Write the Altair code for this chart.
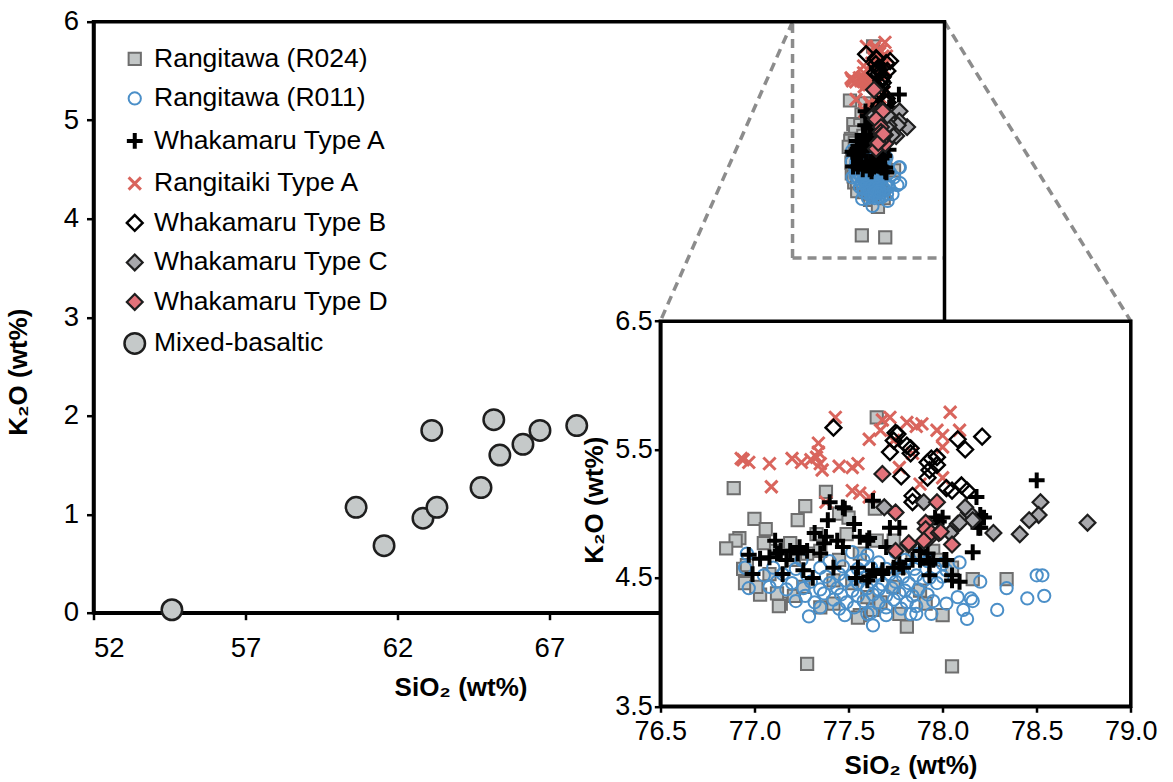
import altair as alt
import pandas as pd

# ---------------- data (SiO2 wt%, K2O wt%) ----------------
mixed_basaltic = [(54.58, 0.03), (60.64, 1.07), (61.56, 0.68), (62.84, 0.96), (63.30, 1.07),
                  (63.13, 1.85), (64.75, 1.27), (65.17, 1.96), (65.37, 1.60), (66.13, 1.71),
                  (66.69, 1.85), (67.90, 1.90)]

rangitawa_r024 = [(77.65, 5.75), (76.89, 5.20), (77.38, 5.17), (77.27, 5.06), (77.00, 4.96), (77.23, 4.95),
                  (77.06, 4.88), (76.92, 4.81), (76.90, 4.79), (76.85, 4.73), (77.64, 5.04), (77.45, 5.00),
                  (77.50, 4.97), (76.94, 4.57), (76.95, 4.46), (77.03, 4.37), (77.14, 4.30), (77.13, 4.28),
                  (77.21, 4.36), (77.35, 4.27), (77.42, 4.30), (77.56, 4.21), (77.55, 4.19), (77.77, 4.22),
                  (77.81, 4.12), (77.91, 4.30), (78.00, 4.21), (78.16, 4.49), (78.34, 4.49), (77.28, 3.83),
                  (78.05, 3.81), (77.63, 4.25), (77.67, 4.31), (77.95, 4.71), (77.97, 4.64), (77.65, 4.79),
                  (77.49, 4.84), (77.33, 4.84), (77.11, 4.71), (77.08, 4.53), (77.21, 4.64), (77.28, 4.69),
                  (77.74, 4.79), (77.84, 4.69), (78.05, 4.58), (77.42, 4.48), (77.52, 4.46), (77.74, 4.43),
                  (77.88, 4.40), (77.26, 4.43), (77.01, 4.43), (77.12, 4.38), (77.60, 4.35), (77.45, 4.64),
                  (77.56, 4.69), (77.35, 4.71), (77.19, 4.77), (77.05, 4.77), (77.77, 4.58), (76.96, 4.60)]

rangitawa_r011 = [(76.96, 4.69), (76.95, 4.58), (76.97, 4.42), (77.08, 4.43), (77.17, 4.41), (77.29, 4.20),
                  (77.27, 4.36), (77.37, 4.38), (77.49, 4.31), (77.62, 4.23), (77.63, 4.13), (77.70, 4.21),
                  (77.83, 4.22), (77.86, 4.22), (77.94, 4.22), (77.60, 4.22), (78.50, 4.52), (78.53, 4.52),
                  (78.45, 4.34), (78.54, 4.36), (78.29, 4.25), (78.34, 4.42), (78.20, 4.47), (78.09, 4.62),
                  (78.15, 4.34), (78.16, 4.32), (78.11, 4.25), (78.13, 4.18), (78.08, 4.35), (78.02, 4.30),
                  (77.52, 4.70), (77.60, 4.68), (77.75, 4.70), (77.88, 4.69), (77.25, 4.64), (77.40, 4.63),
                  (77.58, 4.64), (77.66, 4.62), (77.80, 4.64), (77.92, 4.63), (78.00, 4.61), (77.10, 4.58),
                  (77.22, 4.57), (77.35, 4.58), (77.47, 4.59), (77.55, 4.57), (77.62, 4.58), (77.70, 4.57),
                  (77.78, 4.59), (77.85, 4.57), (77.96, 4.58), (78.02, 4.56), (77.05, 4.52), (77.15, 4.53),
                  (77.28, 4.52), (77.38, 4.51), (77.45, 4.53), (77.52, 4.52), (77.58, 4.50), (77.65, 4.52),
                  (77.72, 4.53), (77.79, 4.51), (77.86, 4.52), (77.93, 4.50), (78.00, 4.51), (77.12, 4.47),
                  (77.20, 4.46), (77.30, 4.47), (77.40, 4.46), (77.48, 4.48), (77.55, 4.46), (77.62, 4.47),
                  (77.68, 4.45), (77.75, 4.47), (77.82, 4.46), (77.90, 4.48), (77.97, 4.46), (77.26, 4.42),
                  (77.35, 4.41), (77.44, 4.42), (77.52, 4.40), (77.60, 4.42), (77.66, 4.41), (77.73, 4.42),
                  (77.80, 4.40), (77.87, 4.41), (77.46, 4.37), (77.55, 4.36), (77.63, 4.37), (77.70, 4.36),
                  (77.77, 4.38), (77.84, 4.36), (77.92, 4.37), (77.22, 4.32), (77.32, 4.31), (77.42, 4.33),
                  (77.58, 4.32), (77.66, 4.31), (77.74, 4.33), (77.81, 4.31), (77.95, 4.32), (77.35, 4.27),
                  (77.45, 4.26), (77.53, 4.27), (77.70, 4.27), (77.78, 4.26), (77.86, 4.28), (77.48, 4.21)]

whakamaru_a = [(78.50, 5.26), (78.18, 5.13), (78.20, 4.99), (78.19, 4.89), (78.16, 4.70), (78.09, 4.47),
               (78.05, 4.52), (78.01, 4.64), (77.98, 4.94), (77.96, 4.97), (77.93, 4.61), (77.92, 4.69),
               (77.84, 4.64), (77.77, 4.61), (77.74, 4.58), (77.77, 4.89), (77.72, 4.89), (77.63, 5.10),
               (77.68, 4.53), (77.63, 4.56), (77.60, 4.48), (77.54, 4.50), (77.55, 4.58), (77.56, 4.82),
               (77.53, 4.92), (77.48, 5.04), (77.42, 4.58), (77.40, 5.09), (77.39, 4.95), (77.38, 4.82),
               (77.37, 4.77), (77.32, 4.85), (77.31, 4.50), (77.26, 4.56), (77.28, 4.71), (77.23, 4.69),
               (77.17, 4.64), (77.15, 4.53), (77.11, 4.79), (77.12, 4.69), (77.08, 4.66), (77.03, 4.65),
               (76.97, 4.68), (76.99, 4.53), (77.14, 4.71), (77.19, 4.71), (77.24, 4.74), (77.35, 4.69),
               (77.47, 4.74), (77.44, 4.79), (77.60, 4.79), (77.70, 4.74), (77.88, 4.71), (78.00, 4.97),
               (77.61, 4.81), (77.88, 4.64), (77.95, 4.64), (78.02, 4.64), (77.93, 4.52), (78.05, 4.48),
               (77.79, 4.58), (77.68, 4.56), (77.61, 4.51), (78.22, 4.97), (78.20, 4.89), (77.47, 5.05)]

rangitaiki_a = [(76.94, 5.42), (76.97, 5.40), (76.93, 5.43), (77.08, 5.39), (77.09, 5.21), (77.20, 5.43),
                (77.25, 5.40), (77.34, 5.55), (77.34, 5.48), (77.35, 5.39), (77.36, 5.34), (77.33, 5.44),
                (77.45, 5.37), (77.52, 5.36), (77.55, 5.39), (77.52, 5.18), (77.43, 5.75), (77.38, 5.09),
                (77.56, 5.16), (77.61, 5.13), (77.68, 5.73), (77.72, 5.75), (77.67, 5.65), (77.81, 5.71),
                (77.89, 5.70), (77.86, 5.68), (77.97, 5.65), (78.00, 5.61), (78.04, 5.79), (78.09, 5.65),
                (78.00, 5.52), (77.84, 5.47), (77.77, 5.36), (78.00, 5.28), (77.88, 5.23), (77.61, 5.58),
                (77.74, 5.57), (77.30, 5.42)]

whakamaru_b = [(77.42, 5.67), (77.76, 5.62), (77.81, 5.53), (77.72, 5.48), (77.74, 5.57), (77.83, 5.47),
               (77.78, 5.29), (77.92, 5.40), (77.94, 5.43), (77.97, 5.44), (78.08, 5.58), (78.12, 5.50),
               (78.21, 5.60), (77.92, 5.28), (77.84, 5.14), (77.84, 5.09), (78.02, 5.20), (78.05, 5.18),
               (78.10, 5.22), (78.13, 5.18), (77.75, 5.63), (77.83, 5.51), (77.93, 5.34), (77.97, 5.38)]

whakamaru_c = [(78.77, 4.93), (78.52, 5.09), (78.51, 4.99), (78.46, 4.95), (78.41, 4.84), (78.27, 4.85),
               (77.69, 5.05), (77.90, 5.09), (78.04, 4.85), (78.08, 4.92), (78.14, 5.01), (78.16, 4.95),
               (77.93, 4.81), (78.09, 4.93), (78.12, 5.05)]

whakamaru_d = [(77.68, 5.31), (77.97, 5.09), (77.75, 5.01), (77.82, 4.76), (77.75, 4.71), (77.91, 4.93),
               (77.91, 4.88), (77.94, 4.85), (77.98, 4.85), (78.05, 4.76), (77.90, 4.79), (77.82, 4.77),
               (77.99, 4.86)]

GROUPS = ["Rangitawa (R024)", "Rangitawa (R011)", "Whakamaru Type A", "Rangitaiki Type A",
          "Whakamaru Type B", "Whakamaru Type C", "Whakamaru Type D", "Mixed-basaltic"]
INSET_SERIES = [rangitawa_r024, rangitawa_r011, rangitaiki_a, whakamaru_a,
                whakamaru_b, whakamaru_c, whakamaru_d]
INSET_NAMES = ["Rangitawa (R024)", "Rangitawa (R011)", "Rangitaiki Type A", "Whakamaru Type A",
               "Whakamaru Type B", "Whakamaru Type C", "Whakamaru Type D"]

# ---------------- styles ----------------
PLUS = "M-1,0L1,0M0,-1L0,1"
XMARK = "M-1,-1L1,1M1,-1L-1,1"
SHAPES = ["square", "circle", PLUS, XMARK, "diamond", "diamond", "diamond", "circle"]
FILLS = ["#c3c7c7", "transparent", "transparent", "transparent", "transparent", "#a8a8ac", "#e2727a", "#c5c9c9"]
STROKES = ["#6e6e6e", "#4b8fc8", "#000000", "#d9655d", "#000000", "#1e1e1e", "#1e1e1e", "#1e1e1e"]
SIZES = [150, 150, 250, 150, 250, 250, 250, 420]
WIDTHS = [2, 2, 4, 3, 2.4, 2.2, 2.2, 2.5]

FONT = "Liberation Sans"
PLOT_W, PLOT_H = 851, 591
MAIN_X, MAIN_Y = [52, 80], [0, 6]
INSET_X, INSET_Y = [76.5, 79.0], [3.5, 6.5]
# where the inset sits, expressed in main-axis data units
INSET_AT_X, INSET_AT_Y = [70.65, 86.13], [-0.95, 2.96]
ZOOM_X, ZOOM_Y = [75, 80], [3.6, 6]


def px_x(v):
    return (v - MAIN_X[0]) / (MAIN_X[1] - MAIN_X[0]) * PLOT_W


def px_y(v):
    return (MAIN_Y[1] - v) / (MAIN_Y[1] - MAIN_Y[0]) * PLOT_H


inset_xrange = [px_x(INSET_AT_X[0]), px_x(INSET_AT_X[1])]
inset_yrange = [px_y(INSET_AT_Y[0]), px_y(INSET_AT_Y[1])]

rows = []
for name, ser in zip(INSET_NAMES, INSET_SERIES):
    for sx, ky in ser:
        rows.append({"x": sx, "y": ky, "group": name})
inset_df = pd.DataFrame(rows)
mixed_df = pd.DataFrame([{"x": a, "y": b, "group": "Mixed-basaltic"} for a, b in mixed_basaltic])
main_df = pd.concat([inset_df, mixed_df], ignore_index=True)

rules_df = pd.DataFrame([
    {"x": ZOOM_X[0], "x2": ZOOM_X[0], "y": ZOOM_Y[0], "y2": ZOOM_Y[1]},
    {"x": ZOOM_X[0], "x2": ZOOM_X[1], "y": ZOOM_Y[0], "y2": ZOOM_Y[0]},
    {"x": ZOOM_X[0], "x2": INSET_AT_X[0], "y": ZOOM_Y[1], "y2": INSET_AT_Y[1]},
    {"x": ZOOM_X[1], "x2": INSET_AT_X[1], "y": ZOOM_Y[1], "y2": INSET_AT_Y[1]},
])
main_frame_df = pd.DataFrame([{"x": MAIN_X[0], "x2": MAIN_X[1], "y": MAIN_Y[0], "y2": MAIN_Y[1]}])
frame_df = pd.DataFrame([{"x": INSET_X[0], "x2": INSET_X[1], "y": INSET_Y[0], "y2": INSET_Y[1]}])

legend = alt.Legend(title=None, orient="none", legendX=28, legendY=24, labelFont=FONT,
                    labelFontSize=26.5, labelColor="black", labelLimit=500, rowPadding=12.5,
                    labelOffset=6, padding=0)

style = dict(
    shape=alt.Shape("group:N", scale=alt.Scale(domain=GROUPS, range=SHAPES), legend=legend),
    fill=alt.Fill("group:N", scale=alt.Scale(domain=GROUPS, range=FILLS), legend=legend),
    stroke=alt.Stroke("group:N", scale=alt.Scale(domain=GROUPS, range=STROKES), legend=legend),
    size=alt.Size("group:N", scale=alt.Scale(type="ordinal", domain=GROUPS, range=SIZES), legend=legend),
    strokeWidth=alt.StrokeWidth("group:N", scale=alt.Scale(type="ordinal", domain=GROUPS, range=WIDTHS),
                                legend=legend),
)

ax_common = dict(domainColor="black", domainWidth=3.5, tickColor="black", tickWidth=2.5,
                 labelFont=FONT, labelColor="black", titleFont=FONT, titleColor="black",
                 titleFontWeight="bold", titleFontSize=26, grid=False,
                 labelOverlap=False, titleAlign="center", titleBaseline="middle")

main_x = alt.X("x:Q", scale=alt.Scale(domain=MAIN_X, nice=False, zero=False),
               axis=alt.Axis(orient="bottom", values=[52, 57, 62, 67], format="d", title="SiO₂ (wt%)",
                             tickSize=7, labelFontSize=27.5, labelPadding=15, labelFlush=1,
                             titleX=367, titleY=75, zindex=0, **ax_common))
main_y = alt.Y("y:Q", scale=alt.Scale(domain=MAIN_Y, nice=False, zero=False),
               axis=alt.Axis(orient="left", values=[0, 1, 2, 3, 4, 5, 6], format="d", title="K₂O (wt%)",
                             tickSize=7, labelFontSize=27.5, labelPadding=8, labelFlush=False,
                             titleX=-75, titleY=350, titleAngle=270, zindex=0, **ax_common))

inset_x = alt.X("x:Q", scale=alt.Scale(domain=INSET_X, range=inset_xrange, nice=False, zero=False),
                axis=alt.Axis(orient="bottom", offset=inset_yrange[0] - PLOT_H,
                              values=[76.5, 77.0, 77.5, 78.0, 78.5, 79.0], format=".1f",
                              title="SiO₂ (wt%)", tickSize=6, labelFontSize=27, labelPadding=6,
                              labelFlush=False, titleX=817, titleY=59, zindex=1, **ax_common))
inset_y = alt.Y("y:Q", scale=alt.Scale(domain=INSET_Y, range=inset_yrange, nice=False, zero=False),
                axis=alt.Axis(orient="left", offset=-inset_xrange[0], values=[3.5, 4.5, 5.5, 6.5],
                              format=".1f", title="K₂O (wt%)", tickSize=6, labelFontSize=27,
                              labelPadding=2, labelFlush=False, titleX=-66, titleY=478,
                              titleAngle=270, zindex=1, **ax_common))

main_frame = alt.Chart(main_frame_df).mark_rect(fillOpacity=0, stroke="black", strokeWidth=3.5).encode(
    x=main_x, x2="x2:Q", y=main_y, y2="y2:Q")
rules = alt.Chart(rules_df).mark_rule(color="#8c8c8c", strokeWidth=3.5, strokeDash=[9, 6]).encode(
    x=main_x, x2="x2:Q", y=main_y, y2="y2:Q")
main_pts = alt.Chart(main_df).mark_point(opacity=1).encode(x=main_x, y=main_y, **style)
main = alt.layer(rules, main_frame, main_pts)

frame = alt.Chart(frame_df).mark_rect(fill="white", stroke="black", strokeWidth=3.5).encode(
    x=inset_x, x2="x2:Q", y=inset_y, y2="y2:Q")
inset_pts = alt.Chart(inset_df).mark_point(opacity=1).encode(x=inset_x, y=inset_y, **style)
inset = alt.layer(frame, inset_pts)

chart = alt.layer(main, inset).resolve_scale(x="independent", y="independent").properties(
    width=PLOT_W, height=PLOT_H,
    padding={"left": 93.5, "top": 21.7, "right": 1173 - 93.5 - PLOT_W, "bottom": 782 - 21.7 - PLOT_H},
    autosize=alt.AutoSizeParams(type="none"),
).configure_view(strokeWidth=0).configure(background="white")

chart.save("out.html", embed_options={"renderer": "svg", "actions": False})
